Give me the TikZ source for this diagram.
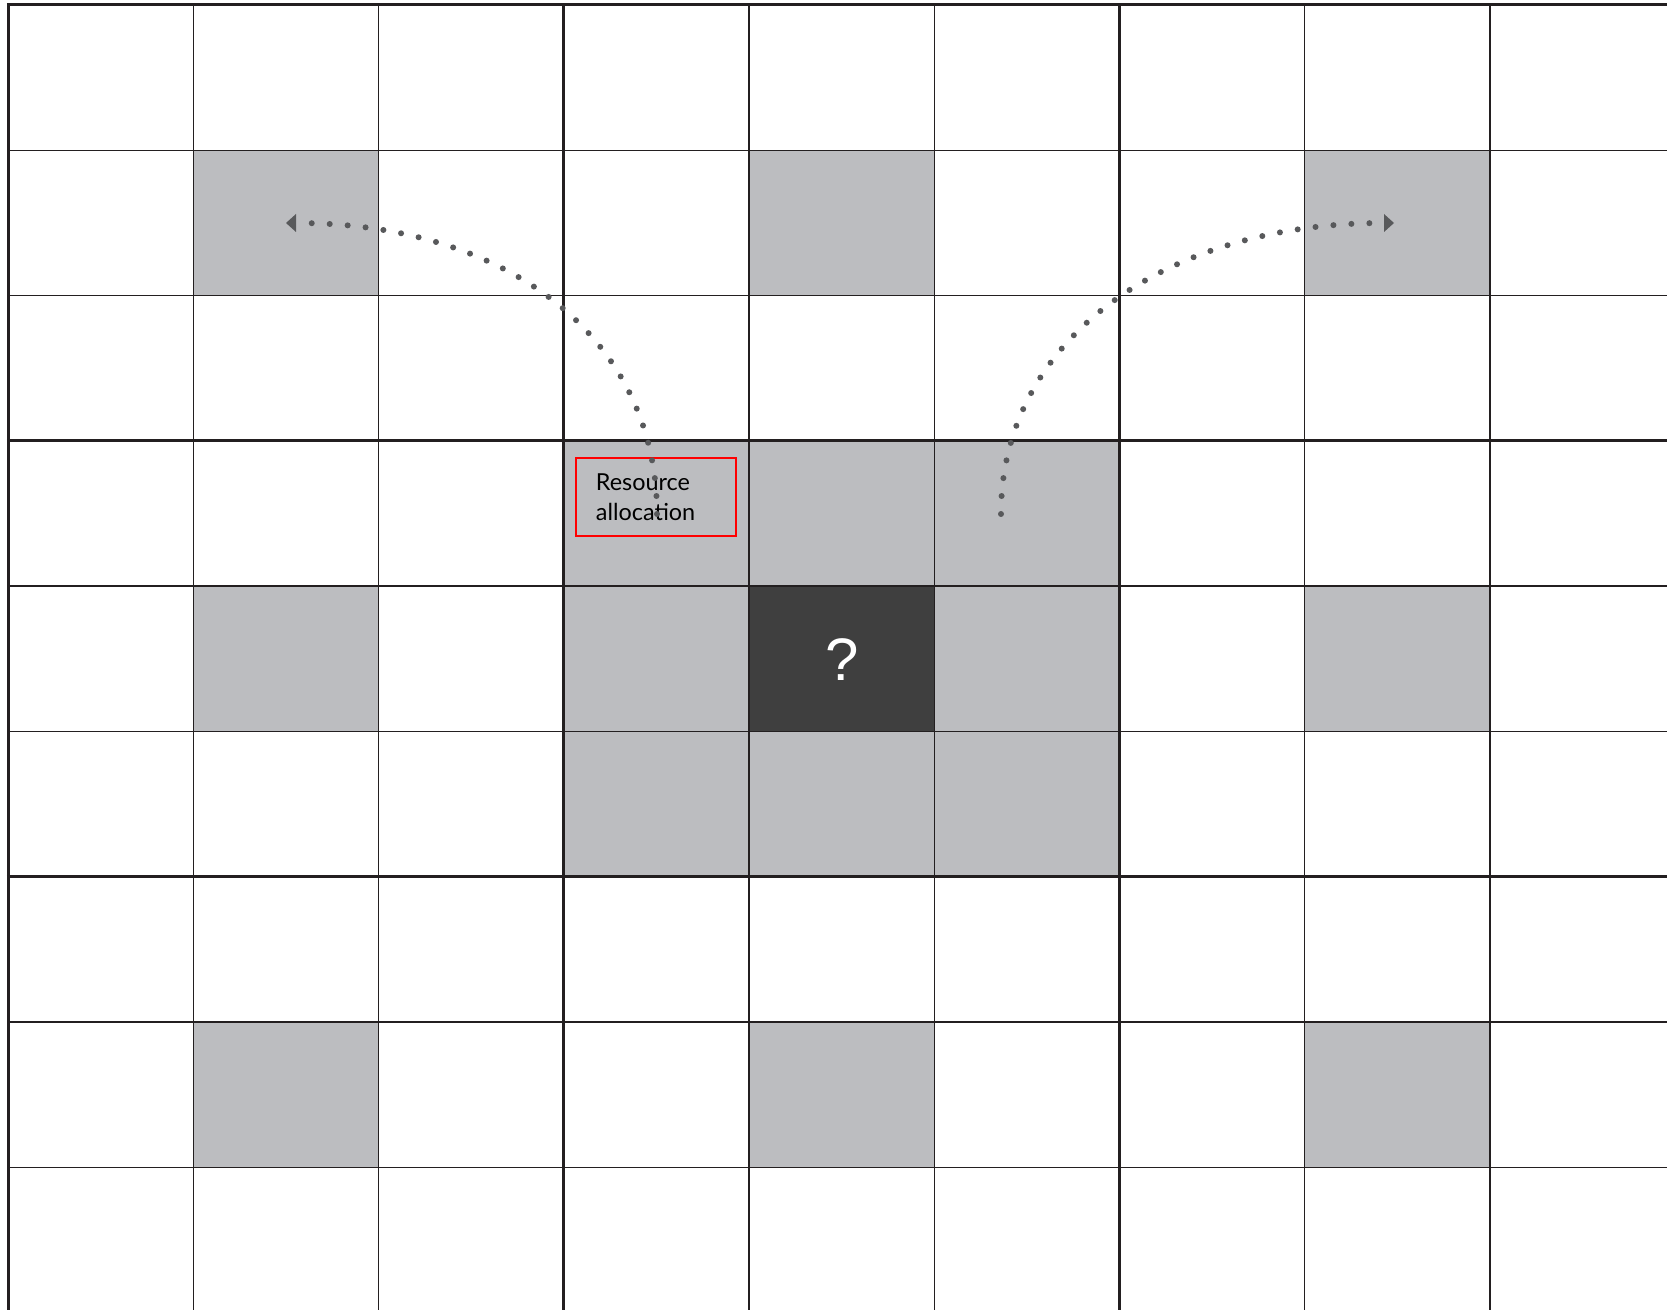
\documentclass[tikz,border=0pt]{standalone}
\usepackage{fontspec}
\setmainfont{Lato}
\newfontfamily\qfont{Liberation Sans}
\usetikzlibrary{arrows.meta}
\definecolor{gridc}{HTML}{231F20}
\definecolor{cellg}{HTML}{BCBDC0}
\definecolor{celld}{HTML}{3F3F3F}
\definecolor{dotc}{HTML}{58595B}
\begin{document}
\begin{tikzpicture}[x=0.5pt,y=-0.5pt,
  thinline/.style={draw=gridc,line width=0.7pt},
  thickline/.style={draw=gridc,line width=1.5pt},
  dotpath/.style={draw=dotc,line width=3pt,line cap=round,dash pattern=on 0pt off 9pt,
    -{Triangle[length=5pt,width=9pt,line width=0pt]}},
  labelbox/.style={draw=red,line width=1pt,minimum width=80pt,minimum height=38.7pt,
    text width=60pt,align=left,inner xsep=10pt,inner ysep=0pt,
    font=\fontsize{11.7}{15}\selectfont,text=black},
  qmark/.style={text=white,font=\qfont\fontsize{30}{30}\selectfont,inner sep=0pt}]
\useasboundingbox (0,0) rectangle (1667,1310);
\fill[white] (0,0) rectangle (1667,1310);
% grey cells
\foreach \c/\r in {1/1,4/1,7/1,1/4,7/4,1/7,4/7,7/7,3/3,4/3,5/3,3/4,5/4,3/5,4/5,5/5}
  \fill[cellg] ({8.3+\c*185.2},{5+\r*145.3}) rectangle ++(185.2,145.3);
% dark centre cell
\fill[celld] ({8.3+4*185.2},{5+4*145.3}) rectangle ++(185.2,145.3);
% thin grid lines
\foreach \k in {1,2,4,5,7,8} {
  \draw[thinline] ({8.3+\k*185.2},5) -- ({8.3+\k*185.2},1310);
  \draw[thinline] (8.3,{5+\k*145.3}) -- (1667,{5+\k*145.3});
}
% thick grid lines
\foreach \k in {0,3,6} {
  \draw[thickline] ({8.3+\k*185.2},3.5) -- ({8.3+\k*185.2},1310);
  \draw[thickline] (6.8,{5+\k*145.3}) -- (1667,{5+\k*145.3});
}
% label
\node[labelbox] (ra) at (655.9,497) {Resource\\allocation};
% question mark
\node[qmark] (q) at (841.7,659.5) {?};
% dotted arrows
\coordinate (ls) at (657,514);
\coordinate (le) at (286,223);
\coordinate (rs) at (1001,514);
\coordinate (re) at (1394,223);
\draw[dotpath] (ls) .. controls (657,340) and (510,223) .. (le);
\draw[dotpath] (rs) .. controls (1001,340) and (1165,223) .. (re);
\end{tikzpicture}
\end{document}
